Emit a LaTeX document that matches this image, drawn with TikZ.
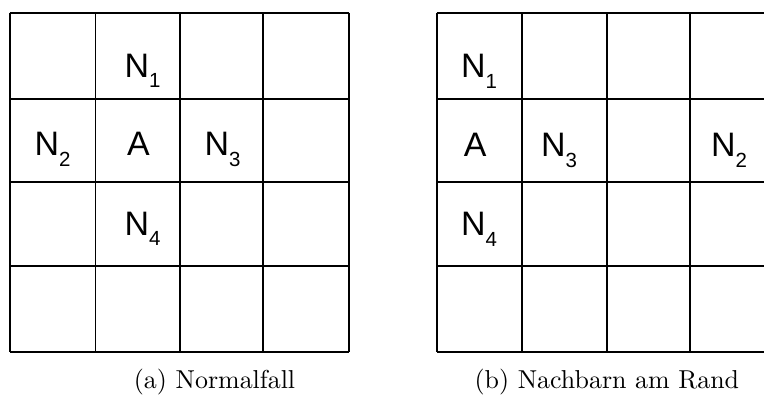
\documentclass[tikz,border=0pt]{standalone}
\usepackage{fontspec}
\newfontfamily\labelfont{Liberation Sans}
\newcommand\lbsub[1]{\raisebox{-4.1pt}{\fontsize{7.9}{9}\selectfont #1}}
\tikzset{
  gridline/.style={line width=0.65pt, black},
  celllabel/.style={inner sep=0pt, anchor=base west, font=\labelfont\fontsize{13.1}{15}\selectfont},
  captiontext/.style={inner sep=0pt, anchor=base west, font=\fontsize{10}{12}\selectfont}
}
\begin{document}
\begin{tikzpicture}[x=0.3861pt, y=-0.3861pt]
\useasboundingbox (0,0) rectangle (764,396);
\clip (0,0) rectangle (764,396);
% left grid
\foreach \xx in {9.7,95.5,180.2,262.7,349.3}
  \draw[gridline] (\xx,12.7) -- (\xx,351.7);
\foreach \yy in {12.7,99.2,182,266.3,351.7}
  \draw[gridline] (9.7,\yy) -- (349.3,\yy);
% right grid
\foreach \xx in {436.7,522.3,607,690,776.3}
  \draw[gridline] (\xx,12.7) -- (\xx,351.7);
\foreach \yy in {12.7,99.2,182,266.3,351.7}
  \draw[gridline] (436.7,\yy) -- (776.3,\yy);
% left labels
\node[celllabel] (aN1) at (124.1,77.3) {N\lbsub{1}};
\node[celllabel] (aN2) at (34.1,156) {N\lbsub{2}};
\node[celllabel] (aA) at (126.7,156) {A};
\node[celllabel] (aN3) at (204.1,156) {N\lbsub{3}};
\node[celllabel] (aN4) at (124.1,235) {N\lbsub{4}};
% right labels
\node[celllabel] (bN1) at (460.7,77.7) {N\lbsub{1}};
\node[celllabel] (bA) at (463.3,156.5) {A};
\node[celllabel] (bN3) at (540.7,156.5) {N\lbsub{3}};
\node[celllabel] (bN2) at (710.7,156.5) {N\lbsub{2}};
\node[celllabel] (bN4) at (460.7,235.7) {N\lbsub{4}};
% captions
\node[captiontext] (capa) at (133.4,388.5) {(a) Normalfall};
\node[captiontext] (capb) at (474.1,388.5) {(b) Nachbarn am Rand};
\end{tikzpicture}
\end{document}
